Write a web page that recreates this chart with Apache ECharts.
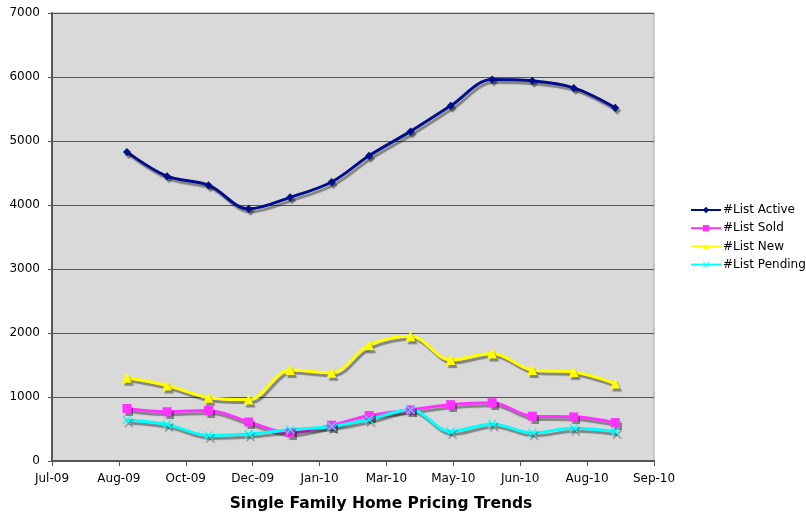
<!DOCTYPE html>
<html>
<head>
<meta charset="utf-8">
<script src="https://cdn.jsdelivr.net/npm/echarts@6/dist/echarts.min.js"></script>
<style>
  html, body { margin: 0; padding: 0; background: #fff; }
  #chart { width: 806px; height: 514px; }
</style>
</head>
<body>
<div id="chart"></div>
<script>
// monthly snapshots
const months = ['2009-09-01', '2009-10-01', '2009-11-01', '2009-12-01', '2010-01-01', '2010-02-01',
  '2010-03-01', '2010-04-01', '2010-05-01', '2010-06-01', '2010-07-01', '2010-08-01', '2010-09-01']
const listActive = [4830, 4450, 4310, 3940, 4120, 4360, 4770, 5150, 5550, 5960, 5940, 5830, 5520]
const listSold = [820, 770, 790, 610, 440, 560, 710, 800, 880, 910, 700, 690, 600]
const listNew = [1300, 1180, 990, 960, 1420, 1380, 1810, 1950, 1580, 1680, 1420, 1390, 1210]
const listPending = [640, 570, 400, 420, 490, 540, 650, 800, 460, 580, 440, 510, 460]
// excel date axis: 50 day major unit
const tickLabels = ['Jul-09', 'Aug-09', 'Oct-09', 'Dec-09', 'Jan-10', 'Mar-10', 'May-10', 'Jun-10', 'Aug-10', 'Sep-10']

const axisStart = Date.UTC(2009, 6, 7)
const DAY = 86400000
const dayOf = (s) => Math.round((Date.parse(s) - axisStart) / DAY)
const pts = (vals) => vals.map((v, i) => [dayOf(months[i]), v])

const xMark = 'path://M0,1L1,0L5,4L9,0L10,1L6,5L10,9L9,10L5,6L1,10L0,9L4,5Z'
const shadow = {shadowColor: 'rgba(0,0,0,0.4)', shadowOffsetX: 2, shadowOffsetY: 3, shadowBlur: 1}

const mkSeries = (name, vals, color, symbol, size) => ({
  name,
  type: 'line',
  data: pts(vals),
  smooth: 0.35,
  symbol,
  symbolSize: size,
  showSymbol: true,
  lineStyle: {color, width: 3, ...shadow},
  itemStyle: {color, ...shadow},
  emphasis: {disabled: true}
})

const chart = echarts.init(document.getElementById('chart'), null, {renderer: 'canvas'})
chart.setOption({
  animation: false,
  backgroundColor: '#fff',
  textStyle: {fontFamily: 'DejaVu Sans'},
  title: {
    text: 'Single Family Home Pricing Trends',
    left: 381,
    textAlign: 'center',
    top: 496,
    padding: 0,
    textStyle: {fontFamily: 'DejaVu Sans', fontSize: 15.5, fontWeight: 'bold', color: '#000'}
  },
  grid: {
    left: 52, right: 152, top: 13, bottom: 53,
    show: true,
    backgroundColor: '#d9d9d9',
    borderColor: '#a0a0a0',
    borderWidth: 1
  },
  legend: {
    orient: 'vertical',
    left: 690,
    top: 204,
    padding: 0,
    itemWidth: 30,
    itemHeight: 8,
    itemGap: 6.2,
    textStyle: {fontFamily: 'DejaVu Sans', fontSize: 12, color: '#000', padding: [0, 0, 0, -3]},
    data: ['#List Active', '#List Sold', '#List New', '#List Pending']
  },
  xAxis: {
    type: 'value',
    min: 0,
    max: 450,
    interval: 50,
    axisLine: {show: true, lineStyle: {color: '#555', width: 2}},
    axisTick: {show: true, length: 5, lineStyle: {color: '#555', width: 1}},
    splitLine: {show: false},
    axisLabel: {
      color: '#000', fontSize: 12, margin: 12,
      formatter: (v) => tickLabels[Math.round(v / 50)]
    }
  },
  yAxis: {
    type: 'value',
    min: 0,
    max: 7000,
    interval: 1000,
    axisLine: {show: true, lineStyle: {color: '#555', width: 2}},
    axisTick: {show: true, length: 4, lineStyle: {color: '#555'}},
    splitLine: {show: true, lineStyle: {color: '#555', width: 1}},
    axisLabel: {color: '#000', fontSize: 12, margin: 12, formatter: (v) => String(v)}
  },
  series: [
    mkSeries('#List Active', listActive, '#000e8c', 'diamond', 8),
    mkSeries('#List Sold', listSold, '#ff33ff', 'rect', 9),
    mkSeries('#List New', listNew, '#ffff00', 'triangle', 10),
    mkSeries('#List Pending', listPending, '#00ffff', xMark, 9)
  ]
})
</script>
</body>
</html>
